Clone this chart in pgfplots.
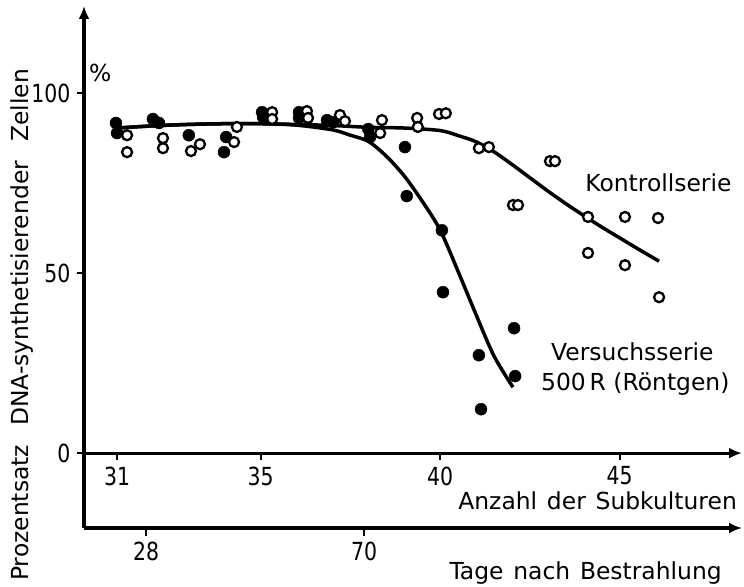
\documentclass[border=0pt]{standalone}
\usepackage{pgfplots}
\pgfplotsset{compat=1.18}
\usepackage{fontspec}
\setmainfont{DejaVu Sans}
\newfontfamily\tickfont{DejaVu Sans}[FakeStretch=0.82]
\usetikzlibrary{arrows.meta}
\newcommand{\lblfont}{\fontsize{23.5}{27}\selectfont}
\newcommand{\tklfont}{\tickfont\fontsize{25}{29}\selectfont}
\begin{document}
\begin{tikzpicture}[x=1bp,y=1bp]
\path[use as bounding box] (-84,-59) rectangle (660,528);
% lower axis: days
\begin{axis}[
  at={(0,0)}, anchor=south west,
  scale only axis, width=658bp, height=522bp,
  xmin=16.05, xmax=142.8, ymin=0, ymax=1,
  axis x line=bottom, axis y line=none,
  axis line style={line width=3.2bp},
  x axis line style={-{Latex[length=13bp,width=11bp]}},
  xtick={28,70}, ytick=\empty,
  tick align=outside, major tick length=8bp,
  tick style={line width=2bp, black},
  xticklabel style={font=\tklfont, /pgf/number format/assume math mode=true, yshift=-2bp},
]
\end{axis}
% main axis
\begin{axis}[
  at={(0,0)}, anchor=south west,
  scale only axis, width=658bp, height=522bp,
  xmin=30.08, xmax=48.41, ymin=-20.8, ymax=124.2,
  axis x line=middle, axis y line=left,
  axis line style={line width=3.2bp},
  x axis line style={-{Latex[length=13bp,width=11bp]}},
  y axis line style={-{Latex[length=13bp,width=11bp]}},
  hide obscured x ticks=false, hide obscured y ticks=false,
  xtick={31,35,40,45}, ytick={0,50,100},
  tick align=outside, major tick length=7bp,
  tick style={line width=2bp, black},
  ticklabel style={font=\tklfont, /pgf/number format/assume math mode=true},
  xticklabel style={yshift=-3bp},
  yticklabel style={xshift=-3bp},
  clip=false,
]
% Versuchsserie curve
\addplot[line width=3.5bp, smooth, black, no marks] coordinates {
 (31,90.3) (32,90.9) (33,91.3) (34,91.5) (35,91.5) (36,91.1) (37,89.8)
 (37.5,88.3) (38,86.6) (38.5,82.5) (39,77) (39.5,70) (40,62) (40.5,50.5)
 (41,38.5) (41.5,27) (42.03,18.3)
};
% Kontrollserie curve
\addplot[line width=3.5bp, smooth, black, no marks] coordinates {
 (31,90.3) (32,90.9) (33,91.3) (34,91.5) (35,91.5) (36,91.3) (37,91)
 (38,90.5) (39,90.3) (40,89.6) (40.5,88.2) (41,86.5) (41.5,83.7) (42,80.2)
 (42.5,76.5) (43,72.8) (43.5,69.3) (44,66) (44.5,62.8) (45,59.8) (45.5,56.8) (46.1,53.3)
};
% Versuchsserie points (filled)
\addplot[only marks, mark=*, mark size=6bp, black] coordinates {
 (30.97,91.7) (31,88.9) (32,92.8) (32.17,91.7) (33,88.3) (34.04,87.8) (33.98,83.6)
 (35.04,94.7) (35.07,93.3) (36.07,94.7) (36.07,93.1) (36.85,92.5) (37.02,91.9)
 (38.0,90.0) (38.05,87.8) (39.02,85) (39.07,71.4) (40.05,61.9) (40.08,44.7)
 (41.08,27.2) (41.14,12.2) (42.06,34.7) (42.09,21.4)
};
% Kontrollserie points (open)
\addplot[only marks, mark=*, mark size=5bp, mark options={fill=white, draw=black, line width=2.3bp}] coordinates {
 (31.28,88.3) (31.28,83.6) (32.28,87.5) (32.28,84.7) (33.06,83.9) (33.31,85.8)
 (34.26,86.4) (34.34,90.6) (35.32,94.7) (35.32,92.8) (36.29,95) (36.32,93.1)
 (37.21,93.9) (37.35,92.2) (38.38,92.5) (38.33,88.9) (39.36,93.1) (39.38,90.6)
 (39.97,94.2) (40.16,94.4) (41.08,84.7) (41.36,85) (42.03,68.9) (42.17,68.9)
 (43.06,81.1) (43.2,81.1) (44.12,65.6) (45.15,65.6) (46.07,65.3)
 (44.12,55.6) (45.15,52.2) (46.1,43.3)
};
\node[font=\lblfont, inner sep=0] at (axis cs:30.53,105.6) {\%};
\node[font=\lblfont, inner sep=0, rotate=90] at (axis cs:28.35,35.6) {Prozentsatz\hspace{0.5em} DNA-synthetisierender\hspace{0.5em} Zellen};
\node[font=\lblfont, inner sep=0, anchor=base east] at (axis cs:48.27,-15.8) {Anzahl\hspace{0.1em} der\hspace{0.1em} Subkulturen};
\node[font=\lblfont, inner sep=0, anchor=base east] at (axis cs:47.85,-35) {Tage\hspace{0.1em} nach\hspace{0.1em} Bestrahlung};
\node[font=\lblfont, inner sep=0, anchor=base west] at (axis cs:44.04,72.8) {Kontrollserie};
\node[font=\lblfont, inner sep=0, anchor=base west] at (axis cs:43.09,25.8) {Versuchsserie};
\node[font=\lblfont, inner sep=0, anchor=base west] at (axis cs:42.81,17.5) {500\,R (Röntgen)};
\end{axis}
\end{tikzpicture}
\end{document}
